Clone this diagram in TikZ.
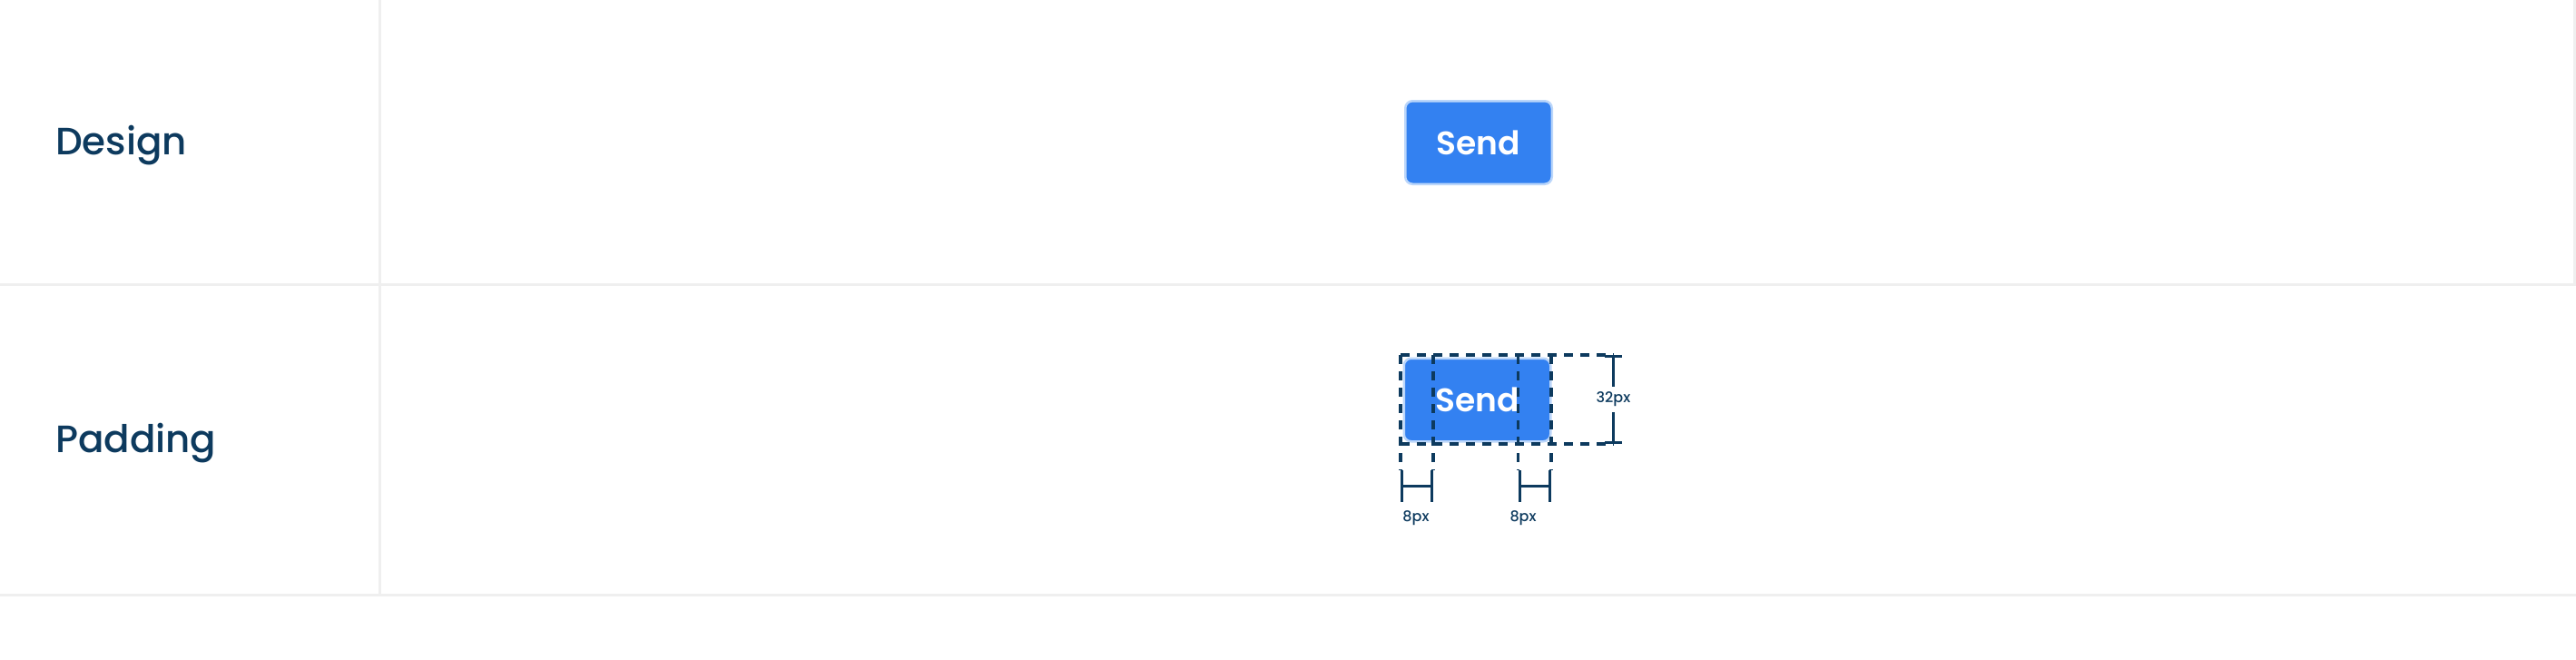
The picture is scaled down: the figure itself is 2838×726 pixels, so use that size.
\documentclass[tikz,border=0pt]{standalone}
\usepackage{fontspec}
\setmainfont{Poppins}[UprightFont=* Medium, BoldFont=* SemiBold]
\usepackage{tikz}
\usetikzlibrary{arrows.meta, positioning, calc}
\definecolor{navy}{HTML}{0D3A5E}
\definecolor{gridgray}{HTML}{EFEFEF}
\definecolor{btnblue}{HTML}{3381F1}
\definecolor{btnedge}{HTML}{BBD6FA}

\begin{document}
\begin{tikzpicture}[x=1pt, y=-1pt,
    gridline/.style={gridgray, line width=3pt},
    sendbtn/.style={draw=btnedge, line width=2.5pt, fill=btnblue, rounded corners=8pt,
      minimum width=161.5pt, minimum height=91.5pt, inner sep=0pt, text=white,
      font=\fontsize{36}{40}\selectfont\bfseries},
    rowlabel/.style={anchor=base west, text=navy, inner sep=0pt, font=\fontsize{42}{50}\selectfont},
    guide/.style={navy, line width=3.3pt, dash pattern=on 10pt off 8pt},
    dimline/.style={navy, line width=3.3pt},
    dimtext/.style={text=navy, inner sep=0pt, font=\fontsize{16}{18}\selectfont}]
  \useasboundingbox (0,0) rectangle (2838,726);

  % table
  \draw[gridline] (0,313.5) -- (2838,313.5);
  \draw[gridline] (0,655.5) -- (2838,655.5);
  \draw[gridline] (418.5,0) -- (418.5,655.5);
  \draw[gridline] (2836.5,0) -- (2836.5,313.5);

  \node[rowlabel] (design) at (61,170) {Design};
  \node[rowlabel] (padding) at (61,498) {Padding};

  % buttons
  \node[sendbtn] (sendA) at (1629,157) {Send};
  \node[sendbtn] (sendB) at (1627.5,440.5) {Send};

  % padding guides
  \coordinate (gA) at (1543,391);
  \coordinate (gB) at (1579,391);
  \coordinate (gC) at (1672.5,391);
  \coordinate (gD) at (1709,391);
  \coordinate (hT) at (1777.5,391);
  \coordinate (hB) at (1777.5,489);
  \draw[guide] (gA) -- (hT);
  \draw[guide] (1543,489) -- (hB);
  \foreach \g in {gA,gB,gC,gD}
    \draw[guide] (\g) -- ($(\g)+(0,127)$);

  % dimensions
  \draw[dimline, {Bar[width=19pt]}-{Bar[width=19pt]}] (hT) -- node[dimtext, fill=white, inner ysep=6pt] (dimH) {32px} (hB);
  \coordinate (lA) at (1543,535.5);
  \coordinate (lB) at (1579,535.5);
  \coordinate (rA) at (1672.5,535.5);
  \coordinate (rB) at (1709,535.5);
  \draw[dimline, {Bar[width=35pt]}-{Bar[width=35pt]}] (lA) -- (lB);
  \draw[dimline, {Bar[width=35pt]}-{Bar[width=35pt]}] (rA) -- (rB);
  \node[dimtext] (dimL) at (1560,571) {8px};
  \node[dimtext] (dimR) at (1678,571) {8px};
\end{tikzpicture}
\end{document}
